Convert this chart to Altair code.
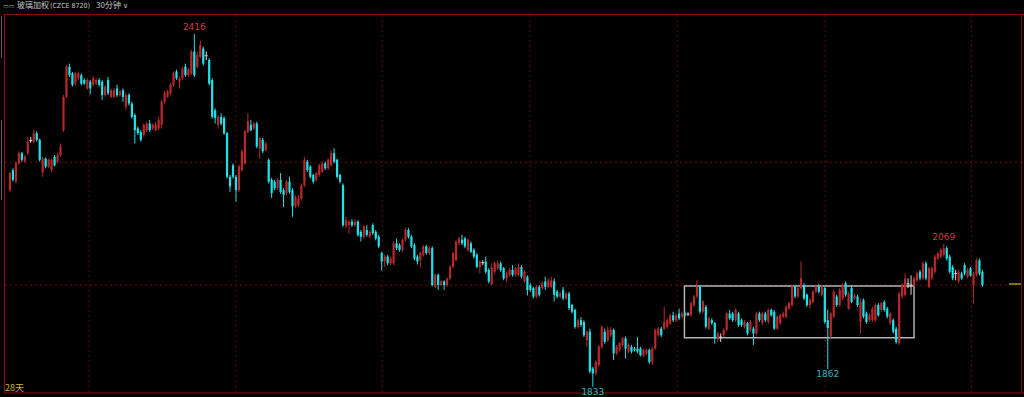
import altair as alt
import pandas as pd

# ---- candle data (30-min bars) ----
O = [
2158,2191,2172,2202,2219,2205,2219,2240,2238,2252,
2241,2188,2210,2197,2191,2213,2205,2216,2257,2312,
2362,2351,2334,2343,2348,2340,2326,2337,2332,2334,
2340,2337,2315,2340,2312,2312,2326,2315,2323,2296,
2315,2301,2282,2260,2254,2249,2257,2268,2260,2257,
2260,2266,2304,2312,2318,2332,2354,2337,2343,2362,
2348,2351,2387,2362,2378,2392,2380,2373,2340,2290,
2266,2279,2277,2252,2180,2199,2180,2158,2191,2202,
2254,2266,2260,2268,2227,2241,2224,2208,2175,2172,
2161,2175,2158,2153,2172,2158,2131,2133,2144,2166,
2205,2197,2183,2175,2183,2188,2202,2194,2199,2219,
2208,2183,2166,2098,2100,2106,2100,2106,2089,2081,
2092,2081,2100,2089,2081,2054,2040,2048,2037,2037,
2070,2067,2059,2076,2092,2081,2067,2048,2042,2051,
2065,2054,2062,1998,2018,2001,2007,2001,2012,2031,
2042,2070,2076,2078,2059,2070,2059,2051,2031,2038,
2040,2026,2003,2023,2029,2037,2029,2012,2018,2026,
2018,2018,2031,2007,2015,2001,1996,1982,1998,1996,
2007,1998,1998,2007,1990,1982,1993,1979,1987,1968,
1960,1932,1943,1940,1910,1924,1863,1855,1869,1899,
1924,1910,1918,1927,1888,1894,1902,1913,1891,1899,
1896,1896,1896,1885,1888,1894,1874,1896,1918,1929,
1929,1932,1937,1951,1943,1954,1949,1954,1953,1951,
1968,1982,1998,1957,1965,1929,1943,1938,1913,1915,
1918,1927,1954,1954,1943,1954,1943,1932,1938,1927,
1929,1921,1954,1938,1954,1940,1960,1957,1929,1938,
1949,1949,1962,1968,1998,1982,1996,2001,1985,1968,
1973,1990,1998,1985,1996,1943,1916,1949,1982,1968,
1979,2004,1962,1996,1979,1982,1940,1976,1954,1943,
1943,1943,1968,1960,1973,1962,1938,1943,1929,1905,
1982,1985,2003,2001,2001,2009,2023,2012,2037,1998,
2012,2023,2045,2048,2051,2062,2048,2031,2020,2007,
2020,2034,2015,2029,2001,2017,2042,2023]

H = [
2188,2194,2205,2222,2221,2216,2246,2246,2258,2255,
2243,2213,2212,2210,2210,2216,2219,2235,2315,2365,
2367,2353,2353,2354,2351,2343,2343,2340,2346,2343,
2343,2340,2332,2345,2326,2327,2332,2324,2326,2318,
2318,2304,2285,2263,2257,2268,2271,2274,2268,2271,
2279,2307,2321,2324,2335,2354,2357,2346,2362,2367,
2360,2390,2416,2387,2405,2395,2387,2376,2343,2293,
2282,2285,2280,2254,2183,2202,2183,2200,2225,2258,
2285,2274,2271,2271,2246,2244,2238,2210,2178,2175,
2178,2186,2161,2175,2180,2161,2150,2150,2169,2213,
2208,2199,2185,2188,2202,2205,2205,2210,2224,2227,
2210,2185,2169,2114,2108,2110,2110,2108,2092,2100,
2100,2092,2103,2092,2084,2056,2051,2051,2048,2073,
2078,2070,2078,2095,2095,2084,2070,2051,2056,2067,
2067,2065,2065,2020,2020,2009,2009,2014,2034,2056,
2075,2081,2084,2081,2078,2073,2062,2054,2042,2042,
2048,2029,2037,2040,2042,2040,2031,2023,2029,2034,
2031,2037,2034,2026,2017,2004,1998,2001,2001,2007,
2015,2012,2015,2012,1993,1990,1998,1990,1990,1970,
1962,1946,1948,1943,1926,1929,1866,1877,1902,1935,
1929,1932,1932,1929,1902,1907,1915,1916,1905,1902,
1899,1915,1899,1896,1896,1896,1899,1929,1932,1932,
1965,1946,1954,1957,1954,1962,1957,1957,1956,1973,
1985,2009,2001,1976,1968,1949,1946,1940,1924,1921,
1929,1957,1960,1957,1962,1957,1946,1943,1940,1943,
1932,1957,1957,1957,1957,1962,1962,1960,1951,1954,
1957,1968,1973,2001,2001,1998,2040,2004,1987,1979,
1993,2001,2003,2001,1998,1960,1957,1993,1985,1996,
2004,2007,1990,2001,1987,1985,1979,1979,1957,1954,
1965,1971,1971,1973,1976,1965,1957,1946,1932,1990,
2004,2020,2012,2017,2015,2023,2026,2040,2040,2031,
2031,2051,2056,2062,2069,2065,2051,2034,2026,2026,
2023,2037,2029,2031,2023,2045,2045,2026]

L = [
2155,2172,2169,2200,2205,2203,2216,2236,2235,2238,
2205,2180,2194,2195,2188,2197,2202,2213,2254,2310,
2345,2329,2331,2340,2331,2332,2324,2316,2329,2332,
2329,2307,2312,2315,2310,2310,2312,2312,2304,2290,
2298,2276,2235,2249,2238,2246,2254,2254,2257,2255,
2257,2260,2301,2310,2315,2329,2340,2326,2340,2345,
2345,2348,2345,2359,2376,2364,2373,2331,2276,2268,
2260,2265,2249,2177,2155,2177,2139,2155,2188,2200,
2252,2255,2257,2227,2210,2219,2222,2169,2145,2158,
2158,2152,2130,2150,2152,2114,2128,2130,2141,2163,
2188,2177,2169,2172,2180,2186,2191,2191,2197,2202,
2177,2169,2097,2095,2086,2097,2097,2081,2073,2078,
2081,2078,2084,2075,2062,2025,2031,2034,2034,2034,
2059,2056,2056,2073,2078,2062,2042,2035,2030,2048,
2051,2051,1999,1996,1993,1999,1993,1998,2009,2029,
2040,2067,2067,2062,2056,2054,2045,2029,2020,2034,
2020,2004,2001,2020,2026,2023,2009,2006,2015,2015,
2015,2015,2012,2004,1984,1990,1979,1979,1982,1993,
1993,1996,1996,1974,1979,1979,1976,1976,1960,1954,
1929,1929,1932,1915,1899,1855,1833,1852,1866,1896,
1904,1907,1915,1877,1885,1891,1899,1880,1888,1888,
1891,1888,1883,1882,1885,1871,1869,1894,1916,1915,
1927,1929,1935,1940,1940,1943,1946,1949,1950,1949,
1965,1979,1954,1954,1929,1927,1935,1904,1907,1907,
1915,1924,1943,1940,1940,1932,1932,1929,1918,1924,
1902,1918,1940,1935,1940,1937,1949,1927,1927,1935,
1946,1946,1960,1965,1979,1979,1993,1976,1965,1962,
1971,1987,1987,1982,1937,1862,1913,1946,1965,1965,
1976,1982,1960,1971,1976,1965,1921,1946,1937,1940,
1940,1940,1949,1957,1957,1946,1935,1921,1904,1902,
1979,1982,1996,1985,1998,2006,2009,2009,2009,1996,
2009,2020,2042,2045,2048,2042,2020,2009,2009,2004,
2009,2017,2012,2015,1970,2015,2017,1998]

C = [
2186,2175,2202,2219,2208,2213,2238,2240,2252,2241,
2208,2210,2197,2208,2208,2199,2216,2230,2312,2362,
2348,2332,2351,2351,2334,2334,2340,2326,2343,2340,
2332,2315,2329,2318,2323,2323,2315,2321,2312,2315,
2301,2279,2257,2252,2241,2266,2268,2257,2266,2266,
2274,2304,2318,2321,2332,2351,2343,2343,2359,2348,
2357,2387,2348,2381,2398,2367,2380,2334,2279,2277,
2279,2268,2252,2180,2164,2180,2158,2197,2222,2255,
2272,2257,2268,2230,2244,2222,2235,2172,2153,2161,
2175,2155,2150,2172,2155,2131,2147,2144,2166,2208,
2191,2180,2172,2186,2199,2202,2194,2208,2219,2205,
2180,2172,2100,2109,2106,2100,2106,2084,2081,2098,
2084,2089,2087,2078,2065,2040,2048,2037,2045,2070,
2062,2059,2076,2092,2081,2065,2045,2040,2054,2065,
2054,2062,2001,2018,2001,2007,2001,2012,2031,2054,
2073,2078,2070,2065,2076,2056,2048,2031,2040,2038,
2023,2007,2030,2037,2037,2026,2012,2020,2026,2018,
2029,2031,2015,2023,1993,1993,1982,1998,1985,2004,
1998,2009,2009,1985,1982,1987,1979,1987,1963,1957,
1932,1943,1935,1918,1924,1858,1855,1874,1899,1932,
1907,1927,1927,1888,1899,1905,1913,1896,1902,1891,
1894,1891,1885,1894,1894,1874,1896,1927,1929,1918,
1940,1943,1951,1943,1951,1946,1954,1951,1953,1971,
1982,1998,1957,1974,1932,1946,1938,1913,1921,1915,
1927,1954,1946,1943,1960,1935,1935,1940,1921,1940,
1921,1954,1943,1954,1943,1960,1951,1929,1949,1951,
1954,1965,1971,1998,1982,1996,2012,1979,1968,1976,
1990,1998,1990,1998,1940,1930,1954,1990,1968,1993,
2001,1985,1987,1973,1984,1968,1973,1949,1940,1951,
1962,1968,1951,1971,1960,1949,1954,1924,1907,1987,
2001,2012,2003,2001,2012,2020,2012,2037,2012,2029,
2029,2048,2053,2059,2062,2045,2023,2012,2020,2023,
2012,2020,2026,2017,2020,2042,2020,2001]

# annotations
ANN_IDX = [62, 196, 275, 314]
ANN_PRICE = [2416, 1833, 1862, 2069]
ANN_TEXT = ["2416", "1833", "1862", "2069"]
ANN_POS = ["high", "low", "low", "high"]

H_LINES = [2204, 2001]                       # dotted horizontal levels
SEP_IDX = [26.6, 75.9, 125.2, 174.8, 224.4, 274.1, 323.3]  # session separators
BOX = {"i0": 226.8, "i1": 304.0, "p0": 1914, "p1": 1999.4}  # consolidation box

RED = "#b8282d"
CYAN = "#1fe3e8"
FLAT = "#d8d8d8"

n = min(len(O), len(H), len(L), len(C))
df = pd.DataFrame({"i": list(range(n)), "o": O[:n], "h": H[:n], "l": L[:n], "c": C[:n]})
df["dir"] = ["up" if c > o else ("down" if c < o else "flat") for o, c in zip(df.o, df.c)]
df["bt"] = df[["o", "c"]].max(axis=1)
df["bb"] = df[["o", "c"]].min(axis=1)

W, HGT = 1024, 397
xs = alt.Scale(domain=[-1.665, 339.3], nice=False, zero=False)
ys = alt.Scale(domain=[1816.0, 2472.2], nice=False, zero=False)
col = alt.Color("dir:N", scale=alt.Scale(domain=["up", "down", "flat"], range=[RED, CYAN, FLAT]), legend=None)

base = alt.Chart(df)
wick = base.mark_rule(strokeWidth=1).encode(
    x=alt.X("i:Q", scale=xs, axis=None),
    y=alt.Y("l:Q", scale=ys, axis=None), y2="h:Q", color=col)
body = base.transform_filter("datum.dir != 'flat'").mark_bar(size=2.2).encode(
    x=alt.X("i:Q", scale=xs, axis=None),
    y=alt.Y("bb:Q", scale=ys, axis=None), y2="bt:Q", color=col)
doji = base.transform_filter("datum.dir == 'flat'").transform_calculate(
    xa="datum.i - 0.5", xb="datum.i + 0.5").mark_rule(strokeWidth=1, color=FLAT).encode(
    x=alt.X("xa:Q", scale=xs, axis=None), x2="xb:Q",
    y=alt.Y("o:Q", scale=ys, axis=None))

dummy = pd.DataFrame({"k": [0]})
hl = alt.Chart(pd.DataFrame({"p": H_LINES})).mark_rule(
    color="#7a0a0a", strokeWidth=1, strokeDash=[2, 3]).encode(
    y=alt.Y("p:Q", scale=ys, axis=None), x=alt.value(5), x2=alt.value(1021))
vl = alt.Chart(pd.DataFrame({"s": SEP_IDX})).mark_rule(
    color="#5e0a0a", strokeWidth=1, strokeDash=[2, 3]).encode(
    x=alt.X("s:Q", scale=xs, axis=None), y=alt.value(15), y2=alt.value(392))

box = alt.Chart(pd.DataFrame([BOX])).mark_rect(
    fillOpacity=0, stroke="#b4b4b4", strokeWidth=1.5).encode(
    x=alt.X("i0:Q", scale=xs, axis=None), x2="i1:Q",
    y=alt.Y("p0:Q", scale=ys, axis=None), y2="p1:Q")

ann = pd.DataFrame({"i": ANN_IDX, "p": ANN_PRICE, "t": ANN_TEXT, "pos": ANN_POS})
ann_hi = alt.Chart(ann).transform_filter("datum.pos == 'high'").mark_text(
    fontSize=9, font="DejaVu Sans", color="#d23c3c", baseline="bottom", dy=-2).encode(
    x=alt.X("i:Q", scale=xs, axis=None), y=alt.Y("p:Q", scale=ys, axis=None), text="t:N")
ann_lo = alt.Chart(ann).transform_filter("datum.pos == 'low'").mark_text(
    fontSize=9, font="DejaVu Sans", color="#2fb4c4", baseline="top", dy=1).encode(
    x=alt.X("i:Q", scale=xs, axis=None), y=alt.Y("p:Q", scale=ys, axis=None), text="t:N")

NARROW = "Liberation Sans Narrow, DejaVu Sans Condensed, Liberation Sans"
d = alt.Chart(dummy)
frame = [
    d.mark_rule(color="#8c0c0c", strokeWidth=1).encode(x=alt.value(4), x2=alt.value(1024), y=alt.value(14.5)),
    d.mark_rule(color="#a01010", strokeWidth=1).encode(x=alt.value(4.5), y=alt.value(14), y2=alt.value(393)),
    d.mark_rule(color="#8c0c0c", strokeWidth=1).encode(x=alt.value(4), x2=alt.value(1024), y=alt.value(393)),
    d.mark_rule(color="#7a0a0a", strokeWidth=1).encode(x=alt.value(1021.5), y=alt.value(14), y2=alt.value(393)),
    d.mark_rule(color="#9a9a1a", strokeWidth=1.5).encode(x=alt.value(1009), x2=alt.value(1021), y=alt.value(284)),
    d.mark_rule(color="#606060", strokeWidth=1).encode(x=alt.value(1.5), y=alt.value(16), y2=alt.value(58)),
    d.mark_rule(color="#606060", strokeWidth=1).encode(x=alt.value(1.5), y=alt.value(120), y2=alt.value(200)),
    d.mark_text(text="▭▭", fontSize=6, font="DejaVu Sans", color="#b0b0b0", align="left", baseline="middle").encode(
        x=alt.value(3), y=alt.value(6)),
    d.mark_text(text="玻璃加权", fontSize=8, font="Noto Sans CJK SC", color="#c8c8c8",
                align="left", baseline="middle").encode(x=alt.value(17), y=alt.value(6)),
    d.mark_text(text="(CZCE 8720)", fontSize=7, font=NARROW, color="#c8c8c8",
                align="left", baseline="middle").encode(x=alt.value(50), y=alt.value(6)),
    d.mark_text(text="30分钟", fontSize=8, font="Noto Sans CJK SC", color="#c8c8c8",
                align="left", baseline="middle").encode(x=alt.value(96), y=alt.value(6)),
    d.mark_text(text="∨", fontSize=7, font="DejaVu Sans", color="#c8c8c8",
                align="left", baseline="middle").encode(x=alt.value(123), y=alt.value(6)),
    d.mark_text(text="28天", fontSize=9, font="Noto Sans CJK SC", color="#c8b43c",
                align="left", baseline="middle").encode(x=alt.value(5), y=alt.value(388)),
]

chart = alt.layer(hl, vl, *frame, box, wick, body, doji, ann_hi, ann_lo).properties(
    width=W, height=HGT, background="#000000", padding=0,
    autosize=alt.AutoSizeParams(type="none"),
).configure_view(stroke=None)

chart.save("out.html", embed_options={"renderer": "svg", "actions": False})
